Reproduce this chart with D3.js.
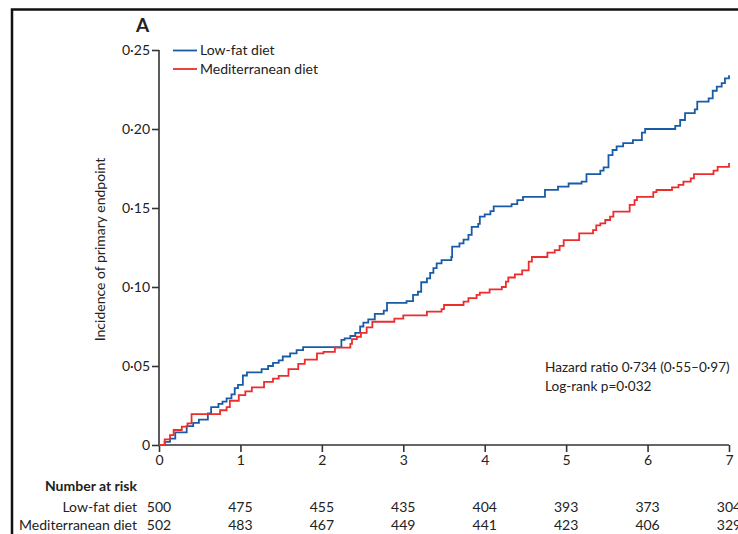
<!DOCTYPE html>
<html>
<head>
<meta charset="utf-8">
<script src="https://cdn.jsdelivr.net/npm/d3@7"></script>
<style>
  html, body { margin: 0; padding: 0; background: #fff; }
  svg { display: block; }
  text { font-family: Lato, "Open Sans", sans-serif; fill: #222; }
</style>
</head>
<body>
<svg id="chart" width="738" height="534"></svg>
<script>
// ---------- DATA ----------
const seriesNames = ["Low-fat diet", "Mediterranean diet"];

// Low-fat diet: [time (years), cumulative incidence after the step]
const lowFatSteps = [
  [0, 0], [0.07, 0.002], [0.135, 0.004], [0.2, 0.008], [0.34, 0.012], [0.42, 0.014],
  [0.49, 0.016], [0.6, 0.020], [0.64, 0.024], [0.73, 0.026], [0.78, 0.0275], [0.83, 0.0295],
  [0.89, 0.032], [0.93, 0.036], [0.97, 0.038], [1.03, 0.044], [1.08, 0.046], [1.26, 0.048],
  [1.34, 0.050], [1.40, 0.052], [1.47, 0.0535], [1.52, 0.056], [1.61, 0.058], [1.69, 0.060],
  [1.77, 0.062], [2.24, 0.0665], [2.28, 0.0675], [2.35, 0.069], [2.41, 0.071], [2.47, 0.075],
  [2.51, 0.0775], [2.57, 0.0795], [2.65, 0.083], [2.76, 0.085], [2.80, 0.090], [3.04, 0.091],
  [3.12, 0.095], [3.18, 0.097], [3.22, 0.103], [3.29, 0.1055], [3.33, 0.109], [3.37, 0.112],
  [3.41, 0.115], [3.47, 0.117], [3.59, 0.119], [3.60, 0.1255], [3.69, 0.1276], [3.74, 0.130],
  [3.80, 0.133], [3.84, 0.138], [3.92, 0.140], [3.94, 0.1445], [4.0, 0.146], [4.07, 0.148],
  [4.11, 0.151], [4.33, 0.1525], [4.40, 0.155], [4.47, 0.157], [4.74, 0.1615], [4.90, 0.1635],
  [5.03, 0.1655], [5.19, 0.1667], [5.25, 0.1715], [5.42, 0.1736], [5.46, 0.1757], [5.52, 0.1835],
  [5.57, 0.1867], [5.62, 0.189], [5.70, 0.191], [5.82, 0.193], [5.93, 0.1977], [5.97, 0.200],
  [6.34, 0.202], [6.40, 0.2057], [6.46, 0.210], [6.58, 0.2124], [6.61, 0.2173], [6.75, 0.2194],
  [6.80, 0.2242], [6.85, 0.2268], [6.91, 0.229], [6.95, 0.232], [7.0, 0.234]
];

// Mediterranean diet
const medSteps = [
  [0, 0], [0.07, 0.0036], [0.135, 0.0063], [0.18, 0.0095], [0.28, 0.0116], [0.35, 0.0137],
  [0.40, 0.0196], [0.75, 0.022], [0.83, 0.024], [0.87, 0.028], [0.98, 0.0316], [1.06, 0.034],
  [1.14, 0.0365], [1.29, 0.040], [1.40, 0.042], [1.47, 0.0437], [1.59, 0.048], [1.71, 0.0513],
  [1.79, 0.054], [1.94, 0.058], [2.02, 0.059], [2.16, 0.0616], [2.35, 0.064], [2.37, 0.067],
  [2.43, 0.0685], [2.48, 0.071], [2.55, 0.0745], [2.62, 0.078], [2.89, 0.080], [3.00, 0.082],
  [3.29, 0.0844], [3.47, 0.086], [3.50, 0.0886], [3.74, 0.0907], [3.80, 0.093], [3.90, 0.095],
  [3.94, 0.0964], [4.06, 0.0985], [4.21, 0.100], [4.26, 0.1034], [4.29, 0.106], [4.37, 0.108],
  [4.46, 0.1105], [4.54, 0.116], [4.58, 0.119], [4.77, 0.1217], [4.86, 0.1234], [4.92, 0.126],
  [4.97, 0.1297], [5.16, 0.134], [5.33, 0.136], [5.37, 0.139], [5.42, 0.1403], [5.48, 0.1424],
  [5.54, 0.1445], [5.58, 0.1477], [5.78, 0.152], [5.84, 0.155], [5.87, 0.157], [6.07, 0.160],
  [6.11, 0.1614], [6.30, 0.163], [6.38, 0.1646], [6.44, 0.1667], [6.53, 0.1688], [6.57, 0.1715],
  [6.81, 0.1736], [6.86, 0.176], [7.0, 0.1785]
];

const xTicks = [0, 1, 2, 3, 4, 5, 6, 7];
const yTicks = [0, 0.05, 0.10, 0.15, 0.20, 0.25];
const riskTimes = [0, 1, 2, 3, 4, 5, 6, 7];
const riskLowFat = [500, 475, 455, 435, 404, 393, 373, 304];
const riskMed = [502, 483, 467, 449, 441, 423, 406, 329];
const panelLabel = "A";
const yLabel = "Incidence of primary endpoint";
const annotation = ["Hazard ratio 0\u00b7734 (0\u00b755\u20130\u00b797)", "Log-rank p=0\u00b7032"];

// ---------- LAYOUT ----------
const svg = d3.select("#chart");
const colors = ["#1a5ba6", "#ec2d2d"];
const axisColor = "#333";

const x = d3.scaleLinear().domain([0, 7]).range([159, 729]);
const y = d3.scaleLinear().domain([0, 0.25]).range([445, 50]);

const fmtY = v => v === 0 ? "0" : d3.format(".2f")(v).replace(".", "\u00b7");

// frame
svg.append("path")
  .attr("d", "M12,534 L12,9.5 L738,9.5")
  .attr("fill", "none").attr("stroke", "#111").attr("stroke-width", 2.5);

// panel label
svg.append("text").attr("x", 136).attr("y", 32)
  .attr("font-size", 19).attr("font-weight", "bold").text(panelLabel);

// axes
const yAxis = d3.axisLeft(y).tickValues(yTicks).tickFormat(fmtY).tickSize(7).tickPadding(2);
const gy = svg.append("g").attr("transform", `translate(${x(0)},0)`).call(yAxis);
const xAxis = d3.axisBottom(x).tickValues(xTicks).tickFormat(d3.format("d")).tickSize(7).tickPadding(3);
const gx = svg.append("g").attr("transform", `translate(0,${y(0)})`).call(xAxis);

[gx, gy].forEach(g => {
  g.select(".domain").attr("stroke", axisColor).attr("stroke-width", 1.6);
  g.selectAll(".tick line").attr("stroke", axisColor).attr("stroke-width", 1.6);
  g.selectAll(".tick text").attr("font-family", "Lato, 'Open Sans', sans-serif")
    .attr("font-size", 14).attr("fill", "#222");
});
gy.select(".domain").attr("d", `M0,${y(0.25)}V${y(0)}`);
gx.select(".domain").attr("d", `M${x(0)},0H${x(7)}`);

// y label
svg.append("text")
  .attr("transform", `translate(105,${(y(0) + y(0.25)) / 2 + 2}) rotate(-90)`)
  .attr("text-anchor", "middle").attr("font-size", 14).text(yLabel);

// curves
const line = d3.line().x(d => x(d[0])).y(d => y(d[1])).curve(d3.curveStepAfter);
[lowFatSteps, medSteps].forEach((s, i) => {
  svg.append("path").datum(s).attr("d", line)
    .attr("fill", "none").attr("stroke", colors[i]).attr("stroke-width", 1.8);
});

// legend
seriesNames.forEach((n, i) => {
  const ly = 50.5 + i * 18.5;
  svg.append("line").attr("x1", 173).attr("x2", 197).attr("y1", ly).attr("y2", ly)
    .attr("stroke", colors[i]).attr("stroke-width", 1.8);
  svg.append("text").attr("x", 200).attr("y", ly + 4.5).attr("font-size", 14).text(n);
});

// annotation
annotation.forEach((t, i) => {
  svg.append("text").attr("x", 545).attr("y", 372 + i * 18.5).attr("font-size", 13.6).text(t);
});

// number at risk
svg.append("text").attr("x", 137).attr("y", 491).attr("text-anchor", "end")
  .attr("font-size", 14).attr("font-weight", "bold").text("Number at risk");
[riskLowFat, riskMed].forEach((arr, i) => {
  const by = 512 + i * 17.5;
  svg.append("text").attr("x", 137).attr("y", by).attr("text-anchor", "end")
    .attr("font-size", 14).text(seriesNames[i]);
  svg.selectAll(null).data(arr).enter().append("text")
    .attr("x", (d, j) => x(riskTimes[j])).attr("y", by)
    .attr("text-anchor", "middle").attr("font-size", 14).text(d => d);
});
</script>
</body>
</html>
